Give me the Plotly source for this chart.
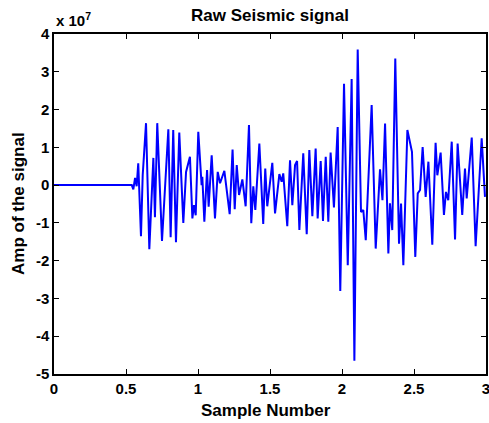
import plotly.graph_objects as go

# sample positions and amplitude (x 1e7)
sample = [0.000, 0.540, 0.551, 0.563, 0.574, 0.585, 0.604, 0.616, 0.639, 0.662,
          0.690, 0.701, 0.717, 0.750, 0.794, 0.810, 0.828, 0.847, 0.870, 0.898,
          0.917, 0.944, 0.961, 0.972, 0.984, 1.002, 1.025, 1.030, 1.044, 1.063,
          1.074, 1.095, 1.118, 1.137, 1.153, 1.183, 1.220, 1.240, 1.255, 1.269,
          1.285, 1.308, 1.331, 1.354, 1.370, 1.384, 1.398, 1.426, 1.453, 1.467,
          1.481, 1.516, 1.535, 1.565, 1.581, 1.592, 1.620, 1.639, 1.655, 1.674,
          1.688, 1.704, 1.731, 1.755, 1.773, 1.794, 1.817, 1.831, 1.852, 1.868,
          1.887, 1.905, 1.921, 1.944, 1.970, 1.988, 2.014, 2.040, 2.067, 2.086,
          2.109, 2.132, 2.148, 2.165, 2.178, 2.206, 2.234, 2.264, 2.281, 2.299,
          2.322, 2.333, 2.349, 2.370, 2.396, 2.410, 2.426, 2.454, 2.486, 2.509,
          2.526, 2.542, 2.560, 2.581, 2.600, 2.627, 2.650, 2.662, 2.685, 2.708,
          2.722, 2.738, 2.762, 2.785, 2.803, 2.835, 2.854, 2.866, 2.901, 2.928,
          2.970, 2.993]
amp_e7 = [0.00, 0.00, -0.11, 0.19, -0.03, 0.58, -1.35, 0.26, 1.64, -1.70,
          0.72, -0.85, 1.64, -1.48, 1.48, -1.38, 1.46, -1.51, 1.39, -1.00,
          0.35, 0.75, -0.88, -0.53, -0.80, 1.41, 0.00, 0.22, -0.97, 0.40,
          -0.57, 0.79, -0.88, 0.35, 0.05, 0.38, -0.77, 0.94, -0.64, 0.53,
          -0.26, 0.15, -0.56, 1.59, -1.01, -0.03, -0.66, 1.10, -1.03, 0.44,
          -0.56, 0.59, -0.75, 0.29, 0.09, 0.31, -1.09, 0.66, -0.53, 0.53,
          0.64, -1.19, 0.84, -1.30, 0.93, -0.82, 0.97, -0.88, 0.64, -0.95,
          0.75, -0.97, 0.86, -0.59, 1.54, -2.80, 2.68, -2.12, 2.81, -4.65,
          3.59, -0.71, -0.66, -1.46, -0.31, 2.12, -1.68, 0.42, -0.40, 1.63,
          -1.81, -0.48, -1.19, 3.35, -1.55, -0.49, -2.12, 1.46, 0.88, -1.90,
          -0.22, -0.13, 1.01, -0.31, 0.62, -1.58, 1.12, 0.26, 0.86, -0.79,
          -0.18, -0.40, 1.15, -1.44, 1.10, -0.79, 0.44, -0.35, 1.26, -1.62,
          1.24, -0.31]

y_ticks = [-5, -4, -3, -2, -1, 0, 1, 2, 3, 4]
x_ticks = [0, 0.5, 1, 1.5, 2, 2.5, 3]
x_ticktext = ["0", "0.5", "1", "1.5", "2", "2.5", "3"]

amp = [a * 1e7 for a in amp_e7]

fig = go.Figure()
fig.add_trace(go.Scatter(
    x=sample, y=amp, mode='lines',
    line=dict(color='#0000FF', width=2),
    showlegend=False
))

family = "Liberation Sans, Arial, sans-serif"
tick_font = dict(family=family, size=15, color="black", weight="bold")
label_font = dict(family=family, size=17, color="black", weight="bold")

axis_common = dict(
    showgrid=False, zeroline=False,
    showline=True, linecolor="black", linewidth=1.5,
    mirror="ticks", ticks="inside", ticklen=5, tickwidth=1.2, tickcolor="black",
    tickfont=tick_font, ticklabeloverflow="allow",
)

fig.update_xaxes(range=[0, 3], tickvals=x_ticks, ticktext=x_ticktext, **axis_common)
fig.update_yaxes(range=[-5e7, 4e7], tickvals=[t * 1e7 for t in y_ticks],
                 ticktext=[str(t) for t in y_ticks], **axis_common)

# axis labels placed like the MATLAB figure
fig.add_annotation(text="Sample Number", xref="paper", yref="paper",
                   x=0.49, y=-36 / 340, xanchor="center", yanchor="middle",
                   showarrow=False, font=label_font)
fig.add_annotation(text="Amp of the signal", xref="paper", yref="paper",
                   x=(18 - 54) / 432, y=0.5, xanchor="center", yanchor="middle",
                   textangle=-90, showarrow=False, font=label_font)
fig.add_annotation(
    text="x 10<sup>7</sup>", xref="paper", yref="paper", x=0, y=1,
    xanchor="left", yanchor="bottom", showarrow=False, font=tick_font, yshift=3
)

fig.update_layout(
    width=489, height=423,
    margin=dict(l=54, r=3, t=34, b=49, autoexpand=False),
    paper_bgcolor="white", plot_bgcolor="white",
    title=dict(text="Raw Seismic signal", font=label_font, x=270 / 489, xanchor="center",
               y=1 - 15 / 423, yanchor="middle"),
)

fig.write_html("out.html", config={"displayModeBar": False},
               post_script="document.body.style.margin='0';")
